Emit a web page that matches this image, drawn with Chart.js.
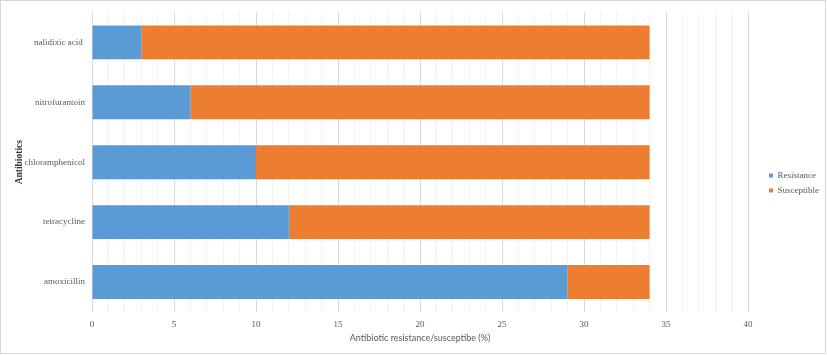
<!DOCTYPE html>
<html>
<head>
<meta charset="utf-8">
<script src="https://cdn.jsdelivr.net/npm/chart.js@4/dist/chart.umd.min.js"></script>
<style>
  html, body { margin: 0; padding: 0; background: #ffffff; }
  #c { display: block; }
</style>
</head>
<body>
<canvas id="c" width="827" height="355"></canvas>
<script>
const categories = ['nalidixic acid ', 'nitrofurantoin', 'chloramphenicol', 'tetracycline', 'amoxicillin'];
const resistance = [3, 6, 10, 12, 29];
const susceptible = [31, 28, 24, 22, 5];
const seriesNames = ['Resistance', 'Susceptible'];
const xTickLabels = ['0', '5', '10', '15', '20', '25', '30', '35', '40'];
const xMin = 0, xMax = 40, xMinorStep = 1, xMajorStep = 5;

const serif = "'Liberation Serif', 'Times New Roman', serif";
const sans = "Lato, 'Liberation Sans', sans-serif";

const framePlugin = {
  id: 'frame',
  beforeLayout(chart) {
    const lg = chart.legend;
    if (lg && !lg._patched) {
      const orig = lg.fit;
      lg.fit = function () { orig.call(this); this.width = 79; };
      lg._patched = true;
    }
  },
  afterLayout(chart) {
    const lg = chart.legend;
    if (lg) { lg.left = 763; lg.right = lg.left + lg.width; }
  },
  afterDraw(chart) {
    const ctx = chart.ctx;
    ctx.save();
    ctx.strokeStyle = '#d9d9d9';
    ctx.lineWidth = 1;
    ctx.strokeRect(0.5, 0.5, 825, 353);
    ctx.restore();
  }
};

new Chart(document.getElementById('c'), {
  type: 'bar',
  data: {
    labels: categories,
    datasets: [
      { label: seriesNames[0], data: resistance, backgroundColor: '#5b9bd5', borderWidth: 0 },
      { label: seriesNames[1], data: susceptible, backgroundColor: '#ed7d31', borderWidth: 0 }
    ]
  },
  options: {
    indexAxis: 'y',
    responsive: false,
    animation: false,
    events: [],
    datasets: { bar: { barPercentage: 0.565, categoryPercentage: 1 } },
    layout: { padding: { top: 11, left: 0, right: 0, bottom: 0 } },
    plugins: {
      tooltip: { enabled: false },
      legend: {
        position: 'right',
        labels: {
          boxWidth: 4, boxHeight: 4, padding: 6,
          color: '#595959',
          font: { family: serif, size: 9 }
        }
      }
    },
    scales: {
      x: {
        stacked: true,
        min: xMin, max: xMax,
        afterFit(s) { s.height = 43; },
        border: { display: false },
        grid: {
          drawTicks: false,
          color: (c) => (c.tick && c.tick.value % xMajorStep === 0) ? '#d9d9d9' : '#f2f2f2',
          lineWidth: 1
        },
        ticks: {
          stepSize: xMinorStep,
          autoSkip: false,
          maxRotation: 0,
          padding: 7,
          color: '#595959',
          font: { family: serif, size: 9 },
          callback: (v) => (v % xMajorStep === 0) ? xTickLabels[v / xMajorStep] : ''
        },
        title: {
          display: true,
          text: 'Antibiotic resistance/susceptibe (%)',
          color: '#595959',
          font: { family: sans, size: 9 },
          padding: { top: 0, bottom: 12 }
        }
      },
      y: {
        stacked: true,
        afterFit(s) { s.width = 92; },
        border: { display: false },
        grid: { display: false, drawTicks: false },
        ticks: {
          padding: 7,
          color: '#595959',
          font: { family: serif, size: 9 }
        },
        title: {
          display: true,
          text: 'Antibiotics',
          color: '#333333',
          font: { family: serif, size: 9.5, weight: 'bold' },
          padding: { top: 14, bottom: 0 }
        }
      }
    }
  },
  plugins: [framePlugin]
});
</script>
</body>
</html>
